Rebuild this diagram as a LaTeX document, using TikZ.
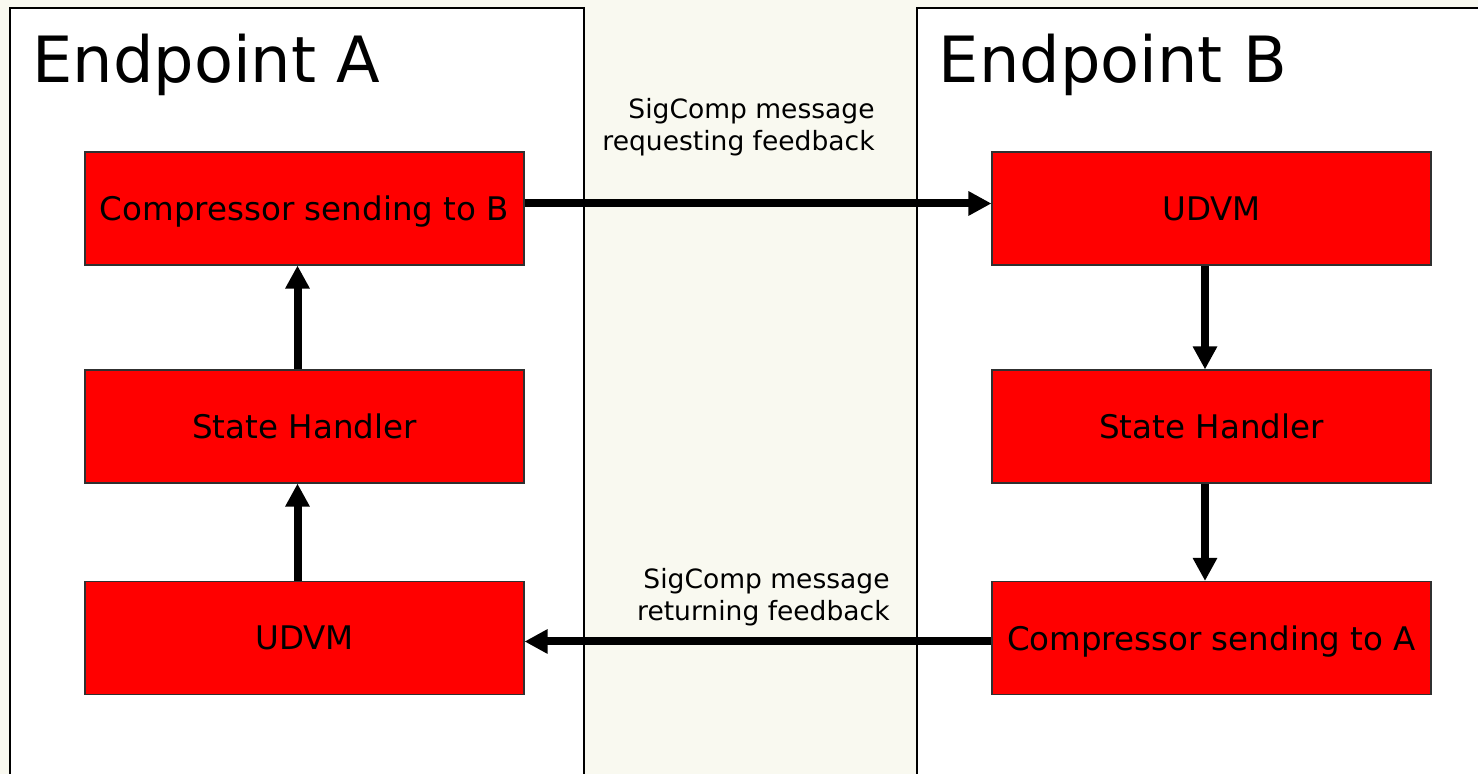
\documentclass[tikz,border=0pt]{standalone}
\usepackage{fontspec}
\setmainfont{DejaVu Sans}
\usetikzlibrary{arrows.meta}
\definecolor{ivorycream}{HTML}{F9F9F0}
\definecolor{signalred}{HTML}{FF0000}
\definecolor{boxedge}{HTML}{303030}

\begin{document}
\begin{tikzpicture}[
            box/.style = {rectangle, draw=boxedge, line width=0.6pt, fill=signalred, inner sep=0pt, text depth=0pt,
                          minimum width=8.78cm, minimum height=2.26cm, font=\fontsize{18.5}{22}\selectfont},
            panel/.style = {draw=black, line width=1.1pt, fill=white},
            title/.style = {anchor=base west, inner sep=0pt, font=\fontsize{36.3}{43}\selectfont},
            msg/.style = {anchor=north east, inner sep=0pt, align=right, font=\fontsize{15.1}{18}\selectfont},
            flow/.style = {line width=0.16cm, -{Triangle[length=0.46cm, width=0.46cm]}},
            ]
            \clip (0, 0) rectangle (29.56, 15.48);
            \fill[ivorycream] (0, 0) rectangle (29.56, 15.48);
            \draw[panel] (0.2, -1) rectangle (11.68, 15.32);
            \draw[panel] (18.34, -1) rectangle (31, 15.32);

            \node[title] (EA) at (0.64, 13.82) {Endpoint A};
            \node[title] (EB) at (18.77, 13.82) {Endpoint B};

            \node[box] (CA) at (6.09, 11.31) {Compressor sending to B};
            \node[box] (SA) at (6.09, 6.95)  {State Handler};
            \node[box] (UA) at (6.09, 2.72)  {UDVM};

            \node[box] (UB) at (24.23, 11.31) {UDVM};
            \node[box] (SB) at (24.23, 6.95)  {State Handler};
            \node[box] (CB) at (24.23, 2.72)  {Compressor sending to A};

            \node[msg] (MR) at (17.5, 13.52) {SigComp message\\requesting feedback};
            \node[msg] (MF) at (17.8, 4.12)  {SigComp message\\returning feedback};

            \draw[flow] ([xshift=-0.14cm]UA.north) -- ([xshift=-0.14cm]SA.south);
            \draw[flow] ([xshift=-0.14cm]SA.north) -- ([xshift=-0.14cm]CA.south);
            \draw[flow] ([yshift=0.1cm]CA.east) -- ([yshift=0.1cm]UB.west);
            \draw[flow] ([xshift=-0.13cm]UB.south) -- ([xshift=-0.13cm]SB.north);
            \draw[flow] ([xshift=-0.13cm]SB.south) -- ([xshift=-0.13cm]CB.north);
            \draw[flow] ([yshift=-0.07cm]CB.west) -- ([yshift=-0.07cm]UA.east);

        \end{tikzpicture}
\end{document}
